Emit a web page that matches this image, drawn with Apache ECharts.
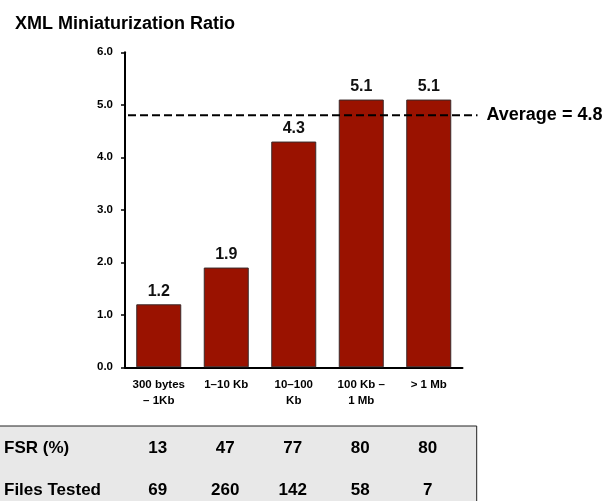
<!DOCTYPE html>
<html>
<head>
<meta charset="utf-8">
<script src="https://cdn.jsdelivr.net/npm/echarts@6/dist/echarts.min.js"></script>
<style>
  html, body { margin: 0; padding: 0; background: #fff; }
  #chart { width: 608px; height: 501px; }
</style>
</head>
<body>
<div id="chart"></div>
<script>
// File size buckets and their compression ratios
const categories = ['300 bytes\n– 1Kb', '1–10 Kb', '10–100\nKb', '100 Kb –\n1 Mb', '> 1 Mb'];
const ratios = [1.2, 1.9, 4.3, 5.1, 5.1];
const averageRatio = 4.8;
const yTicks = [0, 1, 2, 3, 4, 5, 6];

// Summary table under the chart
const fsrPercent = [13, 47, 77, 80, 80];
const filesTested = [69, 260, 142, 58, 7];
const tableRows = [
  { name: 'FSR (%)', values: fsrPercent },
  { name: 'Files Tested', values: filesTested }
];

const FONT = 'Arial';
const chart = echarts.init(document.getElementById('chart'), null, { renderer: 'canvas' });

chart.setOption({
  animation: false,
  backgroundColor: '#fff',
  title: {
    text: 'XML Miniaturization Ratio',
    left: 10, top: 10,
    textStyle: { fontFamily: FONT, fontWeight: 'bold', fontSize: 18, color: '#000' }
  },
  grid: { left: 125, right: 145.5, top: 52.3, bottom: 133.7, containLabel: false },
  xAxis: {
    type: 'category',
    data: categories,
    axisLine: { lineStyle: { color: '#000', width: 2 } },
    axisTick: { show: false },
    axisLabel: {
      fontFamily: FONT, fontWeight: 'bold', fontSize: 11.5, color: '#000',
      lineHeight: 16, margin: 10, interval: 0
    }
  },
  yAxis: {
    type: 'value',
    min: yTicks[0], max: yTicks[yTicks.length - 1], interval: 1,
    splitLine: { show: false },
    axisLine: { show: true, lineStyle: { color: '#000', width: 2 } },
    axisTick: { show: true, length: 4, lineStyle: { color: '#000', width: 1.5 } },
    axisLabel: {
      fontFamily: FONT, fontWeight: 'bold', fontSize: 11.5, color: '#000', margin: 12,
      formatter: v => v.toFixed(1)
    }
  },
  series: [{
    type: 'bar',
    data: ratios,
    barWidth: 45,
    itemStyle: { color: '#9a1200', borderColor: '#3a2a2a', borderWidth: 1 },
    label: {
      show: true, position: 'top', distance: 5,
      fontFamily: FONT, fontWeight: 'bold', fontSize: 16, color: '#111',
      formatter: p => p.value.toFixed(1)
    }
  }]
});

// Average line, legend text and the summary table, placed through the axes' scales
function drawOverlay() {
  const yAvg = chart.convertToPixel({ yAxisIndex: 0 }, averageRatio);
  const x0 = chart.convertToPixel({ xAxisIndex: 0 }, 0);
  const x1 = chart.convertToPixel({ xAxisIndex: 0 }, categories.length - 1);
  const step = (x1 - x0) / (categories.length - 1);
  const axisLeft = x0 - step / 2;
  const axisRight = x1 + step / 2;

  const elements = [
    {
      type: 'line', z: 100,
      shape: { x1: axisLeft + 3, y1: yAvg, x2: axisRight + 15, y2: yAvg },
      style: { stroke: '#000', lineWidth: 2, lineDash: [8, 4] }
    },
    {
      type: 'text', z: 100,
      x: axisRight + 24, y: yAvg,
      style: {
        text: 'Average = ' + averageRatio.toFixed(1),
        fontFamily: FONT, fontWeight: 'bold', fontSize: 18, fill: '#000',
        verticalAlign: 'middle'
      }
    },
    {
      type: 'rect', z: 90,
      shape: { x: -2, y: 426, width: 478.7, height: 90 },
      style: { fill: '#e8e8e8', stroke: '#222', lineWidth: 1 }
    }
  ];

  const rowY = [448, 490];
  tableRows.forEach((row, r) => {
    elements.push({
      type: 'text', z: 100, x: 4, y: rowY[r],
      style: {
        text: row.name, fontFamily: FONT, fontWeight: 'bold', fontSize: 17, fill: '#000',
        verticalAlign: 'middle'
      }
    });
    row.values.forEach((v, i) => {
      const cx = chart.convertToPixel({ xAxisIndex: 0 }, i);
      elements.push({
        type: 'text', z: 100, x: cx - 1, y: rowY[r],
        style: {
          text: String(v), fontFamily: FONT, fontWeight: 'bold', fontSize: 17, fill: '#000',
          align: 'center', verticalAlign: 'middle'
        }
      });
    });
  });

  chart.setOption({ graphic: { elements } });
}
drawOverlay();
</script>
</body>
</html>
